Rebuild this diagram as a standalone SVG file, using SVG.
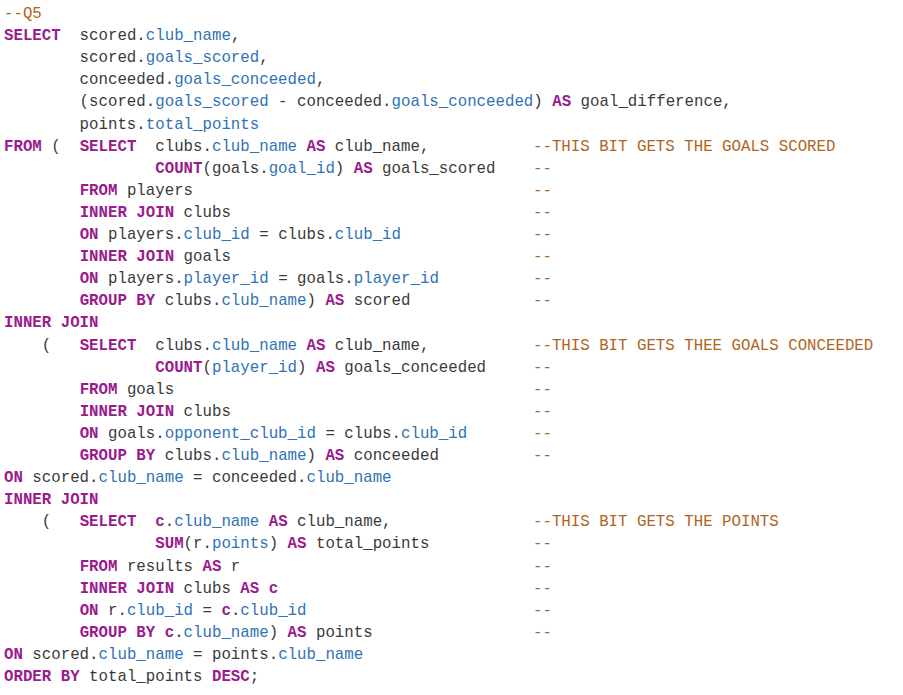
<svg xmlns="http://www.w3.org/2000/svg" width="903" height="695" viewBox="0 0 903 695">
<style>
text{font-family:"Liberation Mono","DejaVu Sans Mono",monospace;font-size:15.75px;fill:#3a3a3a;white-space:pre}
.k{fill:#9a1b8e;font-weight:bold}
.f{fill:#2f73b5}
.c{fill:#b0651e}
</style>
<rect width="903" height="695" fill="#ffffff"/>
<g id="code" xml:space="preserve">
<text x="4" y="18"><tspan class="c">--Q5</tspan></text>
<text x="4" y="40.1"><tspan class="k">SELECT</tspan>  scored.<tspan class="f">club_name</tspan>,</text>
<text x="4" y="62.2">        scored.<tspan class="f">goals_scored</tspan>,</text>
<text x="4" y="84.3">        conceeded.<tspan class="f">goals_conceeded</tspan>,</text>
<text x="4" y="106.4">        (scored.<tspan class="f">goals_scored</tspan> - conceeded.<tspan class="f">goals_conceeded</tspan>) <tspan class="k">AS</tspan> goal_difference,</text>
<text x="4" y="128.5">        points.<tspan class="f">total_points</tspan></text>
<text x="4" y="150.6"><tspan class="k">FROM</tspan> (  <tspan class="k">SELECT</tspan>  clubs.<tspan class="f">club_name</tspan> <tspan class="k">AS</tspan> club_name,</text>
<text x="4" y="172.7">                <tspan class="k">COUNT</tspan>(goals.<tspan class="f">goal_id</tspan>) <tspan class="k">AS</tspan> goals_scored</text>
<text x="4" y="194.8">        <tspan class="k">FROM</tspan> players</text>
<text x="4" y="216.9">        <tspan class="k">INNER JOIN</tspan> clubs</text>
<text x="4" y="239">        <tspan class="k">ON</tspan> players.<tspan class="f">club_id</tspan> = clubs.<tspan class="f">club_id</tspan></text>
<text x="4" y="261.1">        <tspan class="k">INNER JOIN</tspan> goals</text>
<text x="4" y="283.2">        <tspan class="k">ON</tspan> players.<tspan class="f">player_id</tspan> = goals.<tspan class="f">player_id</tspan></text>
<text x="4" y="305.3">        <tspan class="k">GROUP BY</tspan> clubs.<tspan class="f">club_name</tspan>) <tspan class="k">AS</tspan> scored</text>
<text x="4" y="327.4"><tspan class="k">INNER JOIN</tspan></text>
<text x="4" y="349.5">    (   <tspan class="k">SELECT</tspan>  clubs.<tspan class="f">club_name</tspan> <tspan class="k">AS</tspan> club_name,</text>
<text x="4" y="371.6">                <tspan class="k">COUNT</tspan>(<tspan class="f">player_id</tspan>) <tspan class="k">AS</tspan> goals_conceeded</text>
<text x="4" y="393.7">        <tspan class="k">FROM</tspan> goals</text>
<text x="4" y="415.8">        <tspan class="k">INNER JOIN</tspan> clubs</text>
<text x="4" y="437.9">        <tspan class="k">ON</tspan> goals.<tspan class="f">opponent_club_id</tspan> = clubs.<tspan class="f">club_id</tspan></text>
<text x="4" y="460">        <tspan class="k">GROUP BY</tspan> clubs.<tspan class="f">club_name</tspan>) <tspan class="k">AS</tspan> conceeded</text>
<text x="4" y="482.1"><tspan class="k">ON</tspan> scored.<tspan class="f">club_name</tspan> = conceeded.<tspan class="f">club_name</tspan></text>
<text x="4" y="504.2"><tspan class="k">INNER JOIN</tspan></text>
<text x="4" y="526.3">    (   <tspan class="k">SELECT</tspan>  <tspan class="k">c</tspan>.<tspan class="f">club_name</tspan> <tspan class="k">AS</tspan> club_name,</text>
<text x="4" y="548.4">                <tspan class="k">SUM</tspan>(r.<tspan class="f">points</tspan>) <tspan class="k">AS</tspan> total_points</text>
<text x="4" y="570.5">        <tspan class="k">FROM</tspan> results <tspan class="k">AS</tspan> r</text>
<text x="4" y="592.6">        <tspan class="k">INNER JOIN</tspan> clubs <tspan class="k">AS</tspan> <tspan class="k">c</tspan></text>
<text x="4" y="614.7">        <tspan class="k">ON</tspan> r.<tspan class="f">club_id</tspan> = <tspan class="k">c</tspan>.<tspan class="f">club_id</tspan></text>
<text x="4" y="636.8">        <tspan class="k">GROUP BY</tspan> <tspan class="k">c</tspan>.<tspan class="f">club_name</tspan>) <tspan class="k">AS</tspan> points</text>
<text x="4" y="658.9"><tspan class="k">ON</tspan> scored.<tspan class="f">club_name</tspan> = points.<tspan class="f">club_name</tspan></text>
<text x="4" y="681"><tspan class="k">ORDER BY</tspan> total_points <tspan class="k">DESC</tspan>;</text>
</g>
<g id="comments" class="c">
<text x="533" y="150.6" class="c">--THIS BIT GETS THE GOALS SCORED</text>
<text x="533" y="172.7" class="c">--</text>
<text x="533" y="194.8" class="c">--</text>
<text x="533" y="216.9" class="c">--</text>
<text x="533" y="239" class="c">--</text>
<text x="533" y="261.1" class="c">--</text>
<text x="533" y="283.2" class="c">--</text>
<text x="533" y="305.3" class="c">--</text>
<text x="533" y="349.5" class="c">--THIS BIT GETS THEE GOALS CONCEEDED</text>
<text x="533" y="371.6" class="c">--</text>
<text x="533" y="393.7" class="c">--</text>
<text x="533" y="415.8" class="c">--</text>
<text x="533" y="437.9" class="c">--</text>
<text x="533" y="460" class="c">--</text>
<text x="533" y="526.3" class="c">--THIS BIT GETS THE POINTS</text>
<text x="533" y="548.4" class="c">--</text>
<text x="533" y="570.5" class="c">--</text>
<text x="533" y="592.6" class="c">--</text>
<text x="533" y="614.7" class="c">--</text>
<text x="533" y="636.8" class="c">--</text>
</g>
</svg>
